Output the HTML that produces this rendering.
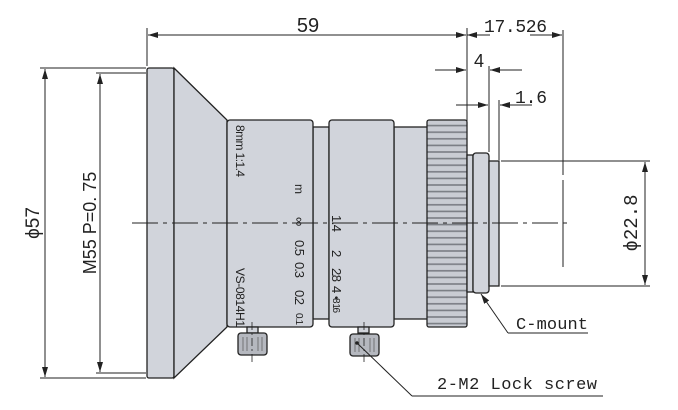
<!DOCTYPE html>
<html><head><style>
html,body{margin:0;padding:0;background:#fff;}
svg{display:block;}
text{font-family:"Liberation Sans",sans-serif;fill:#222;}
</style></head><body>
<svg width="678" height="410" viewBox="0 0 678 410" xmlns="http://www.w3.org/2000/svg">
<defs>
<marker id="a" viewBox="0 0 10 6" refX="10" refY="3" markerWidth="10" markerHeight="6" orient="auto-start-reverse" markerUnits="userSpaceOnUse"><path d="M0,0 L10,3 L0,6 z" fill="#222"/></marker>
<pattern id="kn" x="0" y="120" width="10" height="6.6" patternUnits="userSpaceOnUse"><rect width="10" height="6.6" fill="#c9ccd3"/><rect y="4.8" width="10" height="1.6" fill="#7a7d84"/></pattern>
</defs>
<g stroke="#222" stroke-width="1.3" fill="#d1d4db">
<rect x="147" y="68" width="27" height="310" rx="2"/>
<polygon points="174,68 227,120 227,327 174,378"/>
<rect x="313" y="127" width="16" height="192"/>
<rect x="227" y="120" width="86" height="207" rx="3"/>
<rect x="394" y="127" width="34" height="192"/>
<rect x="329" y="120" width="65" height="207" rx="3"/>
<rect x="427" y="120" width="40" height="207" rx="2" fill="url(#kn)"/>
<rect x="467" y="155" width="6" height="137"/>
<rect x="473" y="153" width="16" height="140" rx="3"/>
<rect x="489" y="161" width="10" height="125"/>
<rect x="247" y="327" width="11" height="6"/>
<rect x="238" y="333" width="29" height="22" rx="3" fill="#b5b8bf"/>
<rect x="358" y="327" width="11" height="6"/>
<rect x="350" y="334" width="29" height="22" rx="3" fill="#b5b8bf"/>
</g>
<g stroke="#555" stroke-width="0.7">
<line x1="243" y1="337" x2="243" y2="351"/><line x1="247" y1="337" x2="247" y2="351"/><line x1="258" y1="337" x2="258" y2="351"/><line x1="262" y1="337" x2="262" y2="351"/>
<line x1="355" y1="338" x2="355" y2="352"/><line x1="359" y1="338" x2="359" y2="352"/><line x1="370" y1="338" x2="370" y2="352"/><line x1="374" y1="338" x2="374" y2="352"/>
</g>
<line x1="132" y1="223" x2="572" y2="223" stroke="#222" stroke-width="1" stroke-dasharray="26,5,4,5"/>
<line x1="252" y1="322" x2="252" y2="362" stroke="#222" stroke-width="0.8" stroke-dasharray="8,3,2,3"/>
<line x1="364" y1="322" x2="364" y2="362" stroke="#222" stroke-width="0.8" stroke-dasharray="8,3,2,3"/>
<g stroke="#222" stroke-width="1" fill="none">
<line x1="147" y1="28" x2="147" y2="66"/>
<line x1="467" y1="28" x2="467" y2="152"/>
<line x1="148" y1="35" x2="466" y2="35" marker-start="url(#a)" marker-end="url(#a)"/>
<line x1="490" y1="35" x2="467" y2="35" marker-end="url(#a)"/>
<line x1="563" y1="30" x2="563" y2="175"/>
<line x1="563" y1="180" x2="563" y2="267"/>
<line x1="530" y1="35" x2="562" y2="35" marker-end="url(#a)"/>
<line x1="435" y1="70" x2="466" y2="70" marker-end="url(#a)"/>
<line x1="522" y1="70" x2="490" y2="70" marker-end="url(#a)"/>
<line x1="489" y1="66" x2="489" y2="152"/>
<line x1="456" y1="105" x2="488" y2="105" marker-end="url(#a)"/>
<line x1="532" y1="105" x2="500" y2="105" marker-end="url(#a)"/>
<line x1="499" y1="100" x2="499" y2="160"/>
<line x1="501" y1="161" x2="650" y2="161"/>
<line x1="501" y1="286" x2="650" y2="286"/>
<line x1="645" y1="162" x2="645" y2="285" marker-start="url(#a)" marker-end="url(#a)"/>
<line x1="40" y1="68" x2="146" y2="68"/>
<line x1="40" y1="378" x2="146" y2="378"/>
<line x1="45" y1="69" x2="45" y2="377" marker-start="url(#a)" marker-end="url(#a)"/>
<line x1="96" y1="73" x2="146" y2="73"/>
<line x1="96" y1="373" x2="146" y2="373"/>
<line x1="100" y1="74" x2="100" y2="372" marker-start="url(#a)" marker-end="url(#a)"/>
<line x1="508" y1="333" x2="481" y2="294" marker-end="url(#a)"/>
<line x1="508" y1="333" x2="588" y2="333"/>
<line x1="412" y1="396" x2="357" y2="343"/>
<line x1="412" y1="396" x2="603" y2="396"/>
</g>
<circle cx="357" cy="343" r="1.8" fill="#222"/>
<text x="308" y="32" font-size="20" text-anchor="middle">59</text>
<text x="484" y="32" font-size="18" textLength="63" style="font-family:'Liberation Mono',monospace">17.526</text>
<text x="479" y="67" font-size="18" text-anchor="middle">4</text>
<text x="515" y="103" font-size="18" textLength="32" style="font-family:'Liberation Mono',monospace">1.6</text>
<text transform="translate(637,223) rotate(-90)" font-size="19" text-anchor="middle" style="font-family:'Liberation Mono',monospace">ϕ22.8</text>
<text transform="translate(39,223) rotate(-90)" font-size="19" text-anchor="middle">ϕ57</text>
<text transform="translate(96,223) rotate(-90)" font-size="18" text-anchor="middle">M55 P=0. 75</text>
<text x="516" y="329" font-size="17" textLength="72" style="font-family:'Liberation Mono',monospace">C-mount</text>
<text x="437" y="389" font-size="17" textLength="160" style="font-family:'Liberation Mono',monospace">2-M2 Lock screw</text>
<g font-size="12">
<text transform="translate(236,125) rotate(90)" textLength="52">8mm 1:1.4</text>
<text transform="translate(236,268) rotate(90)" textLength="59">VS-0814H1</text>
<text transform="translate(295,184) rotate(90)">m</text>
<text transform="translate(295,217) rotate(90)" font-size="13">∞</text>
<text transform="translate(295,240) rotate(90)" font-size="13" textLength="16">0.5</text>
<text transform="translate(295,262) rotate(90)" font-size="13" textLength="16">0.3</text>
<text transform="translate(295,290) rotate(90)" font-size="13" textLength="15">0.2</text>
<text transform="translate(296,313) rotate(90)" font-size="10" textLength="12">0.1</text>
<text transform="translate(332,215) rotate(90)" font-size="13" textLength="17">1.4</text>
<text transform="translate(332,250) rotate(90)" font-size="13">2</text>
<text transform="translate(332,268) rotate(90)" font-size="13" textLength="14">2.8</text>
<text transform="translate(332,286) rotate(90)" font-size="13">4</text>
<text transform="translate(333,296) rotate(90)" font-size="10" textLength="17">•8 16</text>
</g>
</svg>
</body></html>
